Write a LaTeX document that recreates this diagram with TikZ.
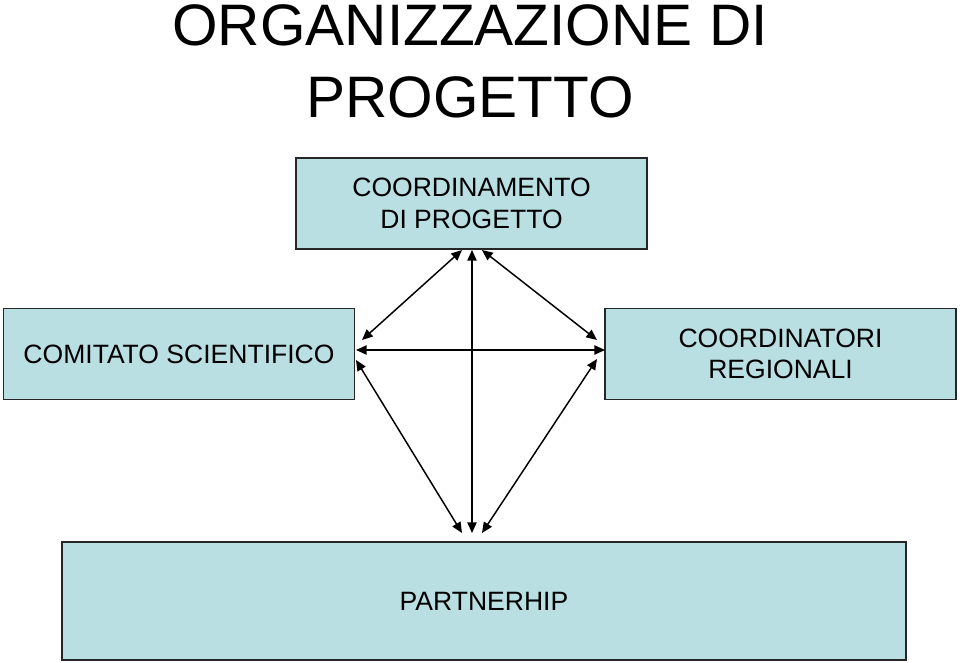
\documentclass[tikz,border=0pt]{standalone}
\usepackage{fontspec}
\setmainfont{Liberation Sans}
\usetikzlibrary{arrows.meta}
\definecolor{boxblue}{RGB}{186,223,227}

\begin{document}
\begin{tikzpicture}[x=0.75pt, y=-0.75pt,
    link/.style={{Triangle[length=8pt,width=7pt]}-{Triangle[length=8pt,width=7pt]}, line width=1.1pt}]
    \useasboundingbox (0,0) rectangle (960,663);

    \node[anchor=north, align=center, inner sep=0pt, font=\fontsize{43.9}{54}\selectfont] (title) at (470,4) {ORGANIZZAZIONE DI\\PROGETTO};

    \begin{scope}[every node/.style={draw=black!85, fill=boxblue, line width=1.1pt, inner sep=0pt, align=center, minimum width=263pt, minimum height=68.5pt, font=\fontsize{19.9}{23.6}\selectfont}]
        \node (coord) at (471.5,203.5) {COORDINAMENTO\\DI PROGETTO};
        \node (comitato) at (179,354) {COMITATO SCIENTIFICO};
        \node (regionali) at (780.5,354) {COORDINATORI\\REGIONALI};
        \node[minimum width=633pt, minimum height=88.5pt] (partner) at (484,601) {PARTNERHIP};
    \end{scope}

    \coordinate (c1) at (462,250);
    \coordinate (c2) at (472,250);
    \coordinate (c3) at (482,250);
    \coordinate (s1) at (362,340);
    \coordinate (s2) at (356,350);
    \coordinate (s3) at (356,360);
    \coordinate (r1) at (597,340);
    \coordinate (r2) at (605,350);
    \coordinate (r3) at (597,359);
    \coordinate (p1) at (462,533);
    \coordinate (p2) at (472,533);
    \coordinate (p3) at (482,533);

    \draw[link] (c1) -- (s1);
    \draw[link] (c2) -- (p2);
    \draw[link] (c3) -- (r1);
    \draw[link] (s2) -- (r2);
    \draw[link] (s3) -- (p1);
    \draw[link] (r3) -- (p3);
\end{tikzpicture}
\end{document}
